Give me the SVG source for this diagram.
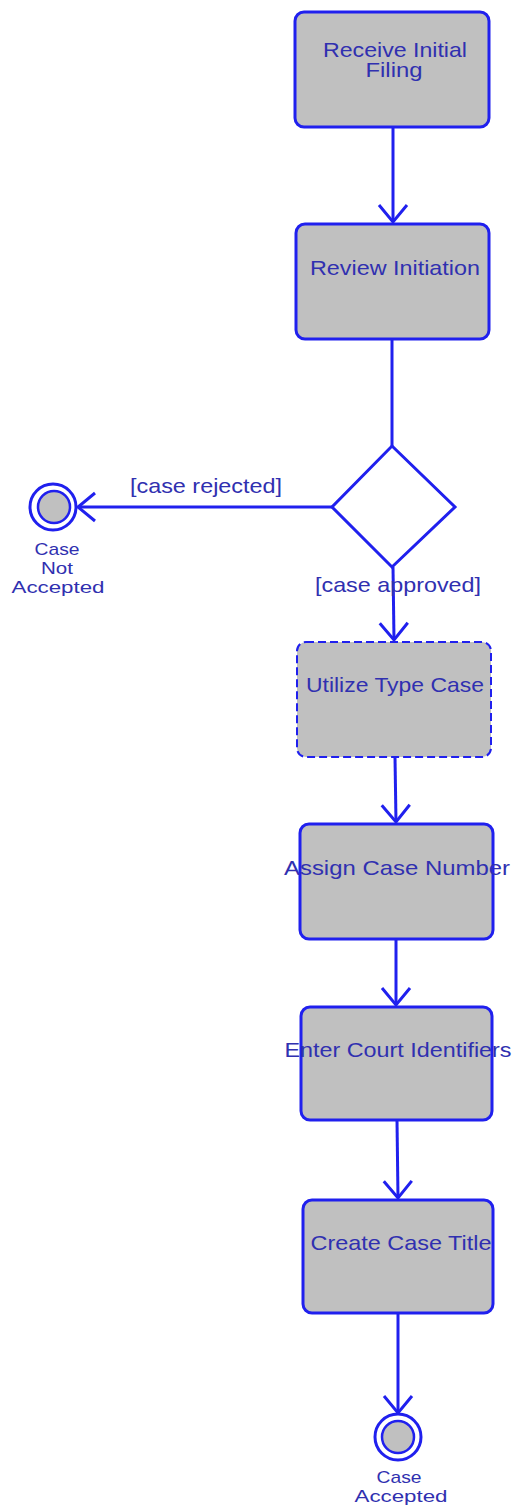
<svg xmlns="http://www.w3.org/2000/svg" width="516" height="1512" viewBox="0 0 516 1512">
<style>
.box{fill:#c0c0c0;stroke:#2020ee;stroke-width:3}
.dash{stroke-dasharray:8 4;stroke-width:2}
.dia{fill:#ffffff;stroke:#2020ee;stroke-width:3}
.edge{fill:none;stroke:#2020ee;stroke-width:3}
.ring{fill:none;stroke:#2020ee;stroke-width:3}
.core{fill:#c0c0c0;stroke:#2020ee;stroke-width:2.5}
text{font-family:"Liberation Sans",Arial,sans-serif;font-size:21px;fill:#3030b0;text-anchor:middle}
text.sm{font-size:17px}
</style>
<defs>
<marker id="arr" markerUnits="userSpaceOnUse" viewBox="-20 -17 23 34" refX="0" refY="0" markerWidth="23" markerHeight="34" orient="auto">
<path d="M-17,-14 L0,0 L-17,14" fill="none" stroke="#2020ee" stroke-width="3"/>
</marker>
</defs>
<rect width="516" height="1512" fill="#ffffff"/>
<g id="connectors">
<path class="edge" d="M393,127 L393,222" marker-end="url(#arr)"/>
<path class="edge" d="M392,339 L392,446"/>
<path class="edge" d="M332,507 L78,507" marker-end="url(#arr)"/>
<path class="edge" d="M393,567 L394,640" marker-end="url(#arr)"/>
<path class="edge" d="M395,757 L396,822" marker-end="url(#arr)"/>
<path class="edge" d="M396,939 L396,1005" marker-end="url(#arr)"/>
<path class="edge" d="M397,1120 L398,1198" marker-end="url(#arr)"/>
<path class="edge" d="M398,1313 L398,1413" marker-end="url(#arr)"/>
<text x="206" y="493" textLength="152" lengthAdjust="spacingAndGlyphs">[case rejected]</text>
<text x="398" y="592" textLength="166" lengthAdjust="spacingAndGlyphs">[case approved]</text>
</g>
<g id="receive">
<rect class="box" x="295" y="12" width="194" height="115" rx="9"/>
<text x="395" y="57" textLength="144" lengthAdjust="spacingAndGlyphs">Receive Initial</text>
<text x="394" y="77" textLength="57" lengthAdjust="spacingAndGlyphs">Filing</text>
</g>
<g id="review">
<rect class="box" x="296" y="224" width="193" height="115" rx="9"/>
<text x="395" y="275" textLength="170" lengthAdjust="spacingAndGlyphs">Review Initiation</text>
</g>
<g id="decision">
<polygon class="dia" points="392,446 455,507 392,567 332,507"/>
</g>
<g id="notaccepted">
<circle class="ring" cx="53" cy="507" r="23"/>
<circle class="core" cx="54" cy="507" r="16"/>
<text class="sm" x="57" y="555" textLength="45" lengthAdjust="spacingAndGlyphs">Case</text>
<text class="sm" x="57" y="574" textLength="32" lengthAdjust="spacingAndGlyphs">Not</text>
<text class="sm" x="58" y="593" textLength="93" lengthAdjust="spacingAndGlyphs">Accepted</text>
</g>
<g id="utilize">
<rect class="box dash" x="297" y="642" width="194" height="115" rx="9"/>
<text x="395" y="692" textLength="178" lengthAdjust="spacingAndGlyphs">Utilize Type Case</text>
</g>
<g id="assign">
<rect class="box" x="300" y="824" width="193" height="115" rx="9"/>
<text x="397" y="875" textLength="226" lengthAdjust="spacingAndGlyphs">Assign Case Number</text>
</g>
<g id="enter">
<rect class="box" x="301" y="1007" width="191" height="113" rx="9"/>
<text x="398" y="1057" textLength="227" lengthAdjust="spacingAndGlyphs">Enter Court Identifiers</text>
</g>
<g id="create">
<rect class="box" x="303" y="1200" width="190" height="113" rx="9"/>
<text x="401" y="1250" textLength="181" lengthAdjust="spacingAndGlyphs">Create Case Title</text>
</g>
<g id="accepted">
<circle class="ring" cx="398" cy="1437" r="23"/>
<circle class="core" cx="398" cy="1437" r="16"/>
<text class="sm" x="399" y="1483" textLength="45" lengthAdjust="spacingAndGlyphs">Case</text>
<text class="sm" x="401" y="1502" textLength="93" lengthAdjust="spacingAndGlyphs">Accepted</text>
</g>
</svg>
